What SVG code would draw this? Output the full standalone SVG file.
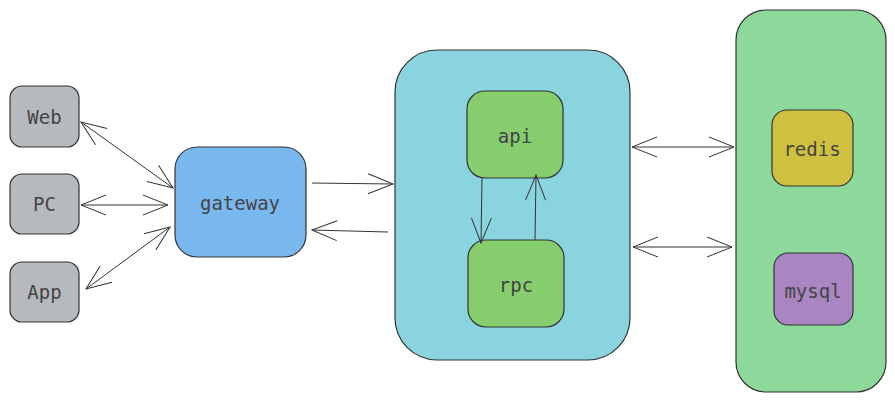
<svg xmlns="http://www.w3.org/2000/svg" width="895" height="402" viewBox="0 0 895 402">
<defs>
<marker id="ah" viewBox="-26 -13 28 26" refX="0" refY="0" markerWidth="28" markerHeight="26" markerUnits="userSpaceOnUse" orient="auto-start-reverse">
<path d="M-25,-10 L0,0 L-25,10" fill="none" stroke="#333" stroke-width="1"/>
</marker>
</defs>
<style>
.n{stroke:#333;stroke-width:1.2}
.t{font-family:"DejaVu Sans Mono","Liberation Mono",monospace;font-size:19px;fill:#444;text-anchor:middle;dominant-baseline:central}
.c{fill:none;stroke:#333;stroke-width:1}
</style>
<rect width="895" height="402" fill="#fff"/>
<g id="service">
<rect class="n" x="395" y="50" width="235" height="310" rx="42" fill="#8ad4df"/>
</g>
<g id="data">
<rect class="n" x="736" y="10" width="150" height="382" rx="30" fill="#8dd99b"/>
</g>
<g id="web"><rect class="n" x="10" y="86" width="69" height="61" rx="12" fill="#b6babe"/><text class="t" x="44.5" y="117">Web</text></g>
<g id="pc"><rect class="n" x="10" y="174" width="69" height="60" rx="12" fill="#b6babe"/><text class="t" x="44.5" y="204">PC</text></g>
<g id="app"><rect class="n" x="10" y="262" width="69" height="60" rx="12" fill="#b6babe"/><text class="t" x="44.5" y="292">App</text></g>
<g id="gateway"><rect class="n" x="175" y="147" width="131" height="110" rx="22" fill="#79b8ef"/><text class="t" x="240" y="203">gateway</text></g>
<g id="api"><rect class="n" x="467" y="91" width="96" height="87" rx="18" fill="#86cd6e"/><text class="t" fill="#3a3a3a" x="515" y="136">api</text></g>
<g id="rpc"><rect class="n" x="468" y="240" width="96" height="87" rx="18" fill="#86cd6e"/><text class="t" x="516" y="285">rpc</text></g>
<g id="redis"><rect class="n" x="772" y="110" width="81" height="76" rx="15" fill="#cfc13f"/><text class="t" x="812" y="149">redis</text></g>
<g id="mysql"><rect class="n" x="774" y="253" width="79" height="72" rx="14" fill="#a985c1"/><text class="t" x="813" y="291">mysql</text></g>
<g id="connectors">
<path class="c" d="M81,122 L173,188" marker-start="url(#ah)" marker-end="url(#ah)"/>
<path class="c" d="M81,205 L168,205" marker-start="url(#ah)" marker-end="url(#ah)"/>
<path class="c" d="M86,289 L170,227" marker-start="url(#ah)" marker-end="url(#ah)"/>
<path class="c" d="M312,183 L393,184" marker-end="url(#ah)"/>
<path class="c" d="M388,232 L312,230" marker-end="url(#ah)"/>
<path class="c" d="M482,177 L481,243" marker-end="url(#ah)"/>
<path class="c" d="M535,240 L536,175" marker-end="url(#ah)"/>
<path class="c" d="M632,147 L734,147" marker-start="url(#ah)" marker-end="url(#ah)"/>
<path class="c" d="M633,247 L732,247" marker-start="url(#ah)" marker-end="url(#ah)"/>
</g>
</svg>
